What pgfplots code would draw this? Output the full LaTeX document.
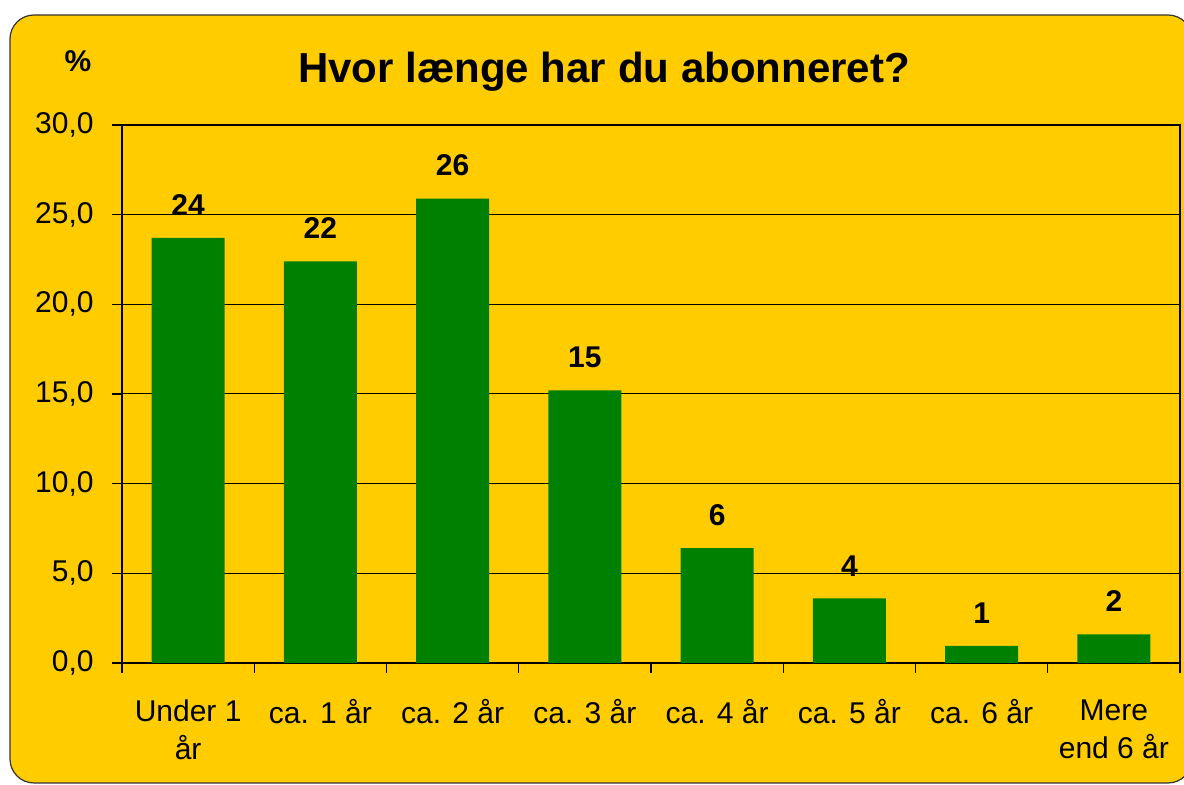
\documentclass[border=0pt]{standalone}
\usepackage{fontspec}
\setmainfont{Liberation Sans}
\usepackage{pgfplots}
\pgfplotsset{compat=1.18}
\definecolor{bgyellow}{HTML}{FFCC00}
\definecolor{bargreen}{HTML}{008000}

\begin{document}
\begin{tikzpicture}
% page = 1184x785 px at 0.5pt per px
\path[use as bounding box] (0,0) rectangle (592pt,392.5pt);
\fill[bgyellow, draw=black!80, line width=0.6pt, rounded corners=12pt] (5pt,1pt) rectangle (596pt,385pt);
\begin{axis}[
  at={(61pt,61pt)}, anchor=south west,
  scale only axis, width=529pt, height=269pt,
  ybar, bar width=36.5pt,
  xmin=-0.5, xmax=7.5, ymin=0, ymax=30,
  xtick={0,...,7},
  xticklabels={{Under 1\\år},{ca. 1 år},{ca. 2 år},{ca. 3 år},{ca. 4 år},{ca. 5 år},{ca. 6 år},{Mere\\end 6 år}},
  minor xtick={-0.5,0.5,...,7.5},
  major x tick style={draw=none},
  ytick={0,5,...,30},
  tick align=outside, tick pos=left,
  major tick length=5pt, minor tick length=5pt,
  tick style={black, line width=0.6pt},
  ymajorgrids, grid style={black, line width=0.5pt},
  axis line style={black, line width=1pt},
  x tick label style={font=\fontsize{15}{19}\selectfont, align=center, anchor=north, inner sep=0pt, yshift=-13pt},
  y tick label style={font=\fontsize{15}{18}\selectfont, anchor=east, inner sep=0pt, xshift=-9pt},
  /pgf/number format/.cd, fixed, fixed zerofill, precision=1, use comma, assume math mode=true,
  /pgfplots/.cd,
  point meta=explicit symbolic,
  nodes near coords,
  nodes near coords style={font=\bfseries\fontsize{15}{18}\selectfont, anchor=south, inner sep=0pt, yshift=11pt},
]
\addplot[fill=bargreen, draw=none] coordinates {
  (0,23.7) [24]
  (1,22.4) [22]
  (2,25.9) [26]
  (3,15.2) [15]
  (4,6.4) [6]
  (5,3.6) [4]
  (6,0.95) [1]
  (7,1.6) [2]
};
\end{axis}
\node[anchor=base, font=\bfseries\fontsize{21}{25}\selectfont, inner sep=0pt] at (302pt,351pt) {Hvor længe har du abonneret?};
\node[anchor=base, font=\bfseries\fontsize{15}{18}\selectfont, inner sep=0pt] at (39pt,356.5pt) {\%};
\end{tikzpicture}
\end{document}
